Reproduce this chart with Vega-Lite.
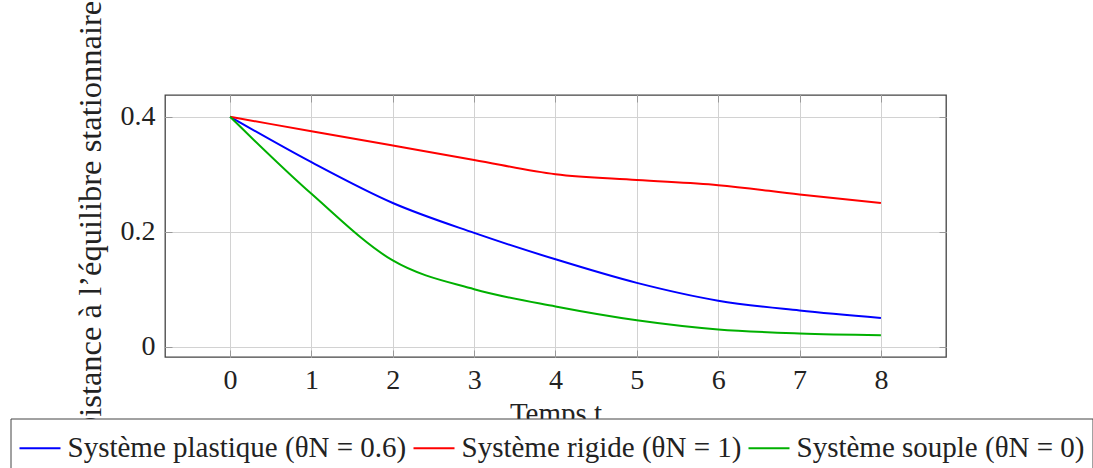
{
  "$schema": "https://vega.github.io/schema/vega-lite/v6.json",
  "width": 781,
  "height": 262,
  "autosize": {"type": "none"},
  "padding": {"left": 165, "top": 95, "right": 147, "bottom": 111},
  "background": "white",
  "config": {
    "font": "Liberation Serif",
    "view": {"stroke": "#444", "strokeWidth": 1.3}
  },
  "data": {
    "values": [
      {"t": 0, "v": 0.4, "s": "Système plastique (θN = 0.6)"},
      {"t": 1, "v": 0.321, "s": "Système plastique (θN = 0.6)"},
      {"t": 2, "v": 0.25, "s": "Système plastique (θN = 0.6)"},
      {"t": 3, "v": 0.198, "s": "Système plastique (θN = 0.6)"},
      {"t": 4, "v": 0.152, "s": "Système plastique (θN = 0.6)"},
      {"t": 5, "v": 0.111, "s": "Système plastique (θN = 0.6)"},
      {"t": 6, "v": 0.08, "s": "Système plastique (θN = 0.6)"},
      {"t": 7, "v": 0.063, "s": "Système plastique (θN = 0.6)"},
      {"t": 8, "v": 0.05, "s": "Système plastique (θN = 0.6)"},
      {"t": 0, "v": 0.4, "s": "Système rigide (θN = 1)"},
      {"t": 1, "v": 0.375, "s": "Système rigide (θN = 1)"},
      {"t": 2, "v": 0.35, "s": "Système rigide (θN = 1)"},
      {"t": 3, "v": 0.325, "s": "Système rigide (θN = 1)"},
      {"t": 4, "v": 0.3, "s": "Système rigide (θN = 1)"},
      {"t": 5, "v": 0.29, "s": "Système rigide (θN = 1)"},
      {"t": 6, "v": 0.281, "s": "Système rigide (θN = 1)"},
      {"t": 7, "v": 0.265, "s": "Système rigide (θN = 1)"},
      {"t": 8, "v": 0.25, "s": "Système rigide (θN = 1)"},
      {"t": 0, "v": 0.4, "s": "Système souple (θN = 0)"},
      {"t": 1, "v": 0.266, "s": "Système souple (θN = 0)"},
      {"t": 2, "v": 0.15, "s": "Système souple (θN = 0)"},
      {"t": 3, "v": 0.1, "s": "Système souple (θN = 0)"},
      {"t": 4, "v": 0.07, "s": "Système souple (θN = 0)"},
      {"t": 5, "v": 0.046, "s": "Système souple (θN = 0)"},
      {"t": 6, "v": 0.03, "s": "Système souple (θN = 0)"},
      {"t": 7, "v": 0.023, "s": "Système souple (θN = 0)"},
      {"t": 8, "v": 0.02, "s": "Système souple (θN = 0)"}
    ]
  },
  "layer": [
    {
      "mark": {"type": "line", "interpolate": "monotone", "strokeWidth": 2},
      "encoding": {
        "x": {
          "field": "t", "type": "quantitative",
          "scale": {"domain": [-0.8, 8.8], "nice": false, "zero": false},
          "axis": {
            "orient": "bottom",
            "values": [0, 1, 2, 3, 4, 5, 6, 7, 8],
            "title": "Temps t",
            "titleFont": "Liberation Serif",
            "titleFontSize": 29,
            "titleFontWeight": "normal",
            "titleColor": "#222",
            "titleBaseline": "alphabetic",
            "titleY": 65,
            "labelFont": "Liberation Serif",
            "labelFontSize": 28,
            "labelColor": "#222",
            "labelPadding": 16,
            "labelFlush": false,
            "labelOverlap": false,
            "tickSize": -7,
            "tickColor": "#999",
            "grid": true,
            "gridColor": "#d2d2d2",
            "domain": false
          }
        },
        "y": {
          "field": "v", "type": "quantitative",
          "scale": {"domain": [-0.018, 0.438], "nice": false, "zero": false},
          "axis": {
            "orient": "left",
            "values": [0, 0.2, 0.4],
            "format": "~g",
            "title": "Distance à l’équilibre stationnaire",
            "titleFont": "Liberation Serif",
            "titleFontSize": 32.5,
            "titleFontWeight": "normal",
            "titleColor": "#222",
            "titleAngle": 270,
            "titleAlign": "center",
            "titleBaseline": "alphabetic",
            "titleX": -65,
            "titleY": 125,
            "labelFont": "Liberation Serif",
            "labelFontSize": 28,
            "labelColor": "#222",
            "labelPadding": 17,
            "labelFlush": false,
            "labelOverlap": false,
            "tickSize": -7,
            "tickColor": "#999",
            "grid": true,
            "gridColor": "#d2d2d2",
            "domain": false
          }
        },
        "color": {
          "field": "s", "type": "nominal",
          "scale": {
            "domain": ["Système plastique (θN = 0.6)", "Système rigide (θN = 1)", "Système souple (θN = 0)"],
            "range": ["#0000ff", "#ff0000", "#00b000"]
          },
          "legend": {
            "orient": "none",
            "legendX": -154.5,
            "legendY": 323.5,
            "direction": "horizontal",
            "title": null,
            "symbolType": "stroke",
            "symbolSize": 1681,
            "symbolStrokeWidth": 2,
            "labelFont": "Liberation Serif",
            "labelFontSize": 29,
            "labelColor": "#222",
            "labelOffset": 6,
            "labelLimit": 0,
            "columnPadding": 3,
            "padding": 8,
            "fillColor": "white",
            "strokeColor": "#444",
            "zindex": 2
          }
        }
      }
    },
    {
      "mark": {"type": "line", "opacity": 0},
      "encoding": {
        "x": {
          "field": "t", "type": "quantitative",
          "scale": {"domain": [-0.8, 8.8], "nice": false, "zero": false},
          "axis": {
            "orient": "top",
            "values": [0, 1, 2, 3, 4, 5, 6, 7, 8],
            "title": null,
            "labels": false,
            "tickSize": -7,
            "tickColor": "#999",
            "grid": false,
            "domain": false
          }
        },
        "y": {
          "field": "v", "type": "quantitative",
          "scale": {"domain": [-0.018, 0.438], "nice": false, "zero": false},
          "axis": {
            "orient": "right",
            "values": [0, 0.2, 0.4],
            "title": null,
            "labels": false,
            "tickSize": -7,
            "tickColor": "#999",
            "grid": false,
            "domain": false
          }
        },
        "detail": {"field": "s", "type": "nominal"}
      }
    }
  ],
  "resolve": {"axis": {"x": "independent", "y": "independent"}}
}
